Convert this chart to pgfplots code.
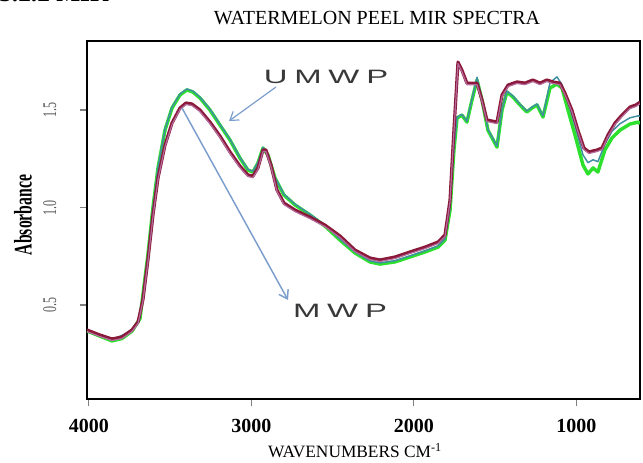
\documentclass[border=0pt]{standalone}
\usepackage{fontspec}
\setmainfont{Liberation Serif}
\newfontfamily\labsans{Liberation Sans}
\usepackage{pgfplots}
\usepackage{pgfplotstable}
\pgfplotsset{compat=1.18}
\usetikzlibrary{arrows.meta}

\definecolor{mwpred}{HTML}{8B1A3A}
\definecolor{mwppink}{HTML}{B46A9C}
\definecolor{umwpgreen}{HTML}{2EE02E}
\definecolor{umwpteal}{HTML}{3F8FA0}
\definecolor{arrowblue}{HTML}{7C9ECC}
\definecolor{labgray}{HTML}{383838}

% MWP (microwave-treated peel), two replicate scans
\pgfplotstableread{
w v
4012 0.372
3932 0.346
3858 0.326
3797 0.336
3735 0.372
3698 0.413
3668 0.526
3637 0.731
3606 0.962
3575 1.151
3532 1.320
3489 1.433
3440 1.510
3403 1.536
3366 1.531
3317 1.500
3255 1.438
3194 1.367
3132 1.285
3071 1.213
3022 1.167
2991 1.161
2960 1.203
2929 1.295
2911 1.295
2880 1.218
2843 1.090
2800 1.023
2732 0.987
2640 0.951
2548 0.910
2455 0.854
2363 0.782
2271 0.741
2209 0.731
2117 0.746
2025 0.772
1932 0.797
1852 0.823
1809 0.859
1778 1.038
1754 1.397
1729 1.746
1705 1.705
1674 1.638
1612 1.638
1581 1.551
1551 1.449
1489 1.438
1458 1.577
1421 1.628
1366 1.644
1317 1.638
1268 1.654
1225 1.638
1182 1.654
1145 1.644
1102 1.638
1071 1.587
1028 1.500
991 1.397
954 1.305
923 1.285
874 1.295
843 1.305
806 1.372
763 1.433
720 1.474
671 1.515
634 1.526
609 1.540
}\mwpa

\pgfplotstableread{
w v
4012 0.364
3932 0.338
3858 0.318
3797 0.328
3735 0.364
3698 0.405
3668 0.518
3637 0.723
3606 0.954
3575 1.143
3532 1.312
3489 1.425
3440 1.502
3403 1.528
3366 1.523
3317 1.492
3255 1.430
3194 1.359
3132 1.277
3071 1.205
3022 1.159
2991 1.153
2960 1.195
2929 1.287
2911 1.287
2880 1.210
2843 1.082
2800 1.015
2732 0.979
2640 0.943
2548 0.902
2455 0.846
2363 0.774
2271 0.733
2209 0.723
2117 0.738
2025 0.764
1932 0.789
1852 0.815
1809 0.851
1778 1.030
1754 1.389
1729 1.738
1705 1.697
1674 1.630
1612 1.630
1581 1.543
1551 1.441
1489 1.430
1458 1.569
1421 1.620
1366 1.636
1317 1.630
1268 1.646
1225 1.630
1182 1.646
1145 1.636
1102 1.630
1071 1.579
1028 1.492
991 1.389
954 1.297
923 1.277
874 1.287
843 1.297
806 1.364
763 1.425
720 1.466
671 1.507
634 1.518
609 1.532
}\mwpb

% UMWP (untreated peel), two replicate scans
\pgfplotstableread{
w v
4012 0.367
3932 0.340
3858 0.316
3797 0.328
3735 0.366
3686 0.430
3637 0.757
3606 1.000
3575 1.203
3532 1.397
3489 1.510
3440 1.577
3397 1.603
3360 1.592
3317 1.562
3255 1.500
3194 1.423
3132 1.346
3071 1.254
3022 1.192
2991 1.182
2960 1.228
2929 1.305
2898 1.269
2855 1.151
2800 1.064
2732 1.013
2640 0.962
2548 0.905
2455 0.833
2363 0.767
2271 0.721
2209 0.710
2117 0.721
2025 0.746
1932 0.772
1852 0.797
1809 0.833
1778 0.987
1754 1.295
1735 1.459
1705 1.474
1674 1.438
1643 1.551
1612 1.654
1581 1.551
1545 1.397
1489 1.310
1458 1.500
1428 1.592
1391 1.567
1348 1.526
1305 1.490
1274 1.510
1243 1.526
1206 1.464
1163 1.613
1120 1.633
1089 1.613
1052 1.500
1009 1.372
960 1.218
929 1.172
898 1.203
868 1.182
825 1.295
782 1.356
732 1.397
671 1.428
621 1.438
609 1.430
}\umwpa

\pgfplotstableread{
w v
4012 0.370
3858 0.320
3735 0.369
3686 0.433
3637 0.760
3606 1.003
3575 1.207
3532 1.401
3489 1.514
3440 1.582
3397 1.608
3360 1.597
3317 1.566
3255 1.504
3194 1.427
3132 1.350
3071 1.258
3022 1.196
2991 1.186
2960 1.232
2929 1.309
2898 1.273
2855 1.155
2800 1.068
2732 1.017
2640 0.966
2548 0.910
2455 0.838
2363 0.772
2271 0.726
2209 0.716
2117 0.727
2025 0.752
1932 0.778
1852 0.803
1809 0.840
1778 0.995
1754 1.300
1735 1.462
1705 1.478
1674 1.442
1643 1.556
1612 1.668
1581 1.556
1545 1.402
1489 1.315
1458 1.505
1428 1.597
1391 1.572
1348 1.531
1305 1.495
1274 1.515
1243 1.531
1206 1.470
1163 1.640
1120 1.670
1089 1.630
1052 1.540
1009 1.420
960 1.270
929 1.230
898 1.245
868 1.235
825 1.325
782 1.390
732 1.430
671 1.460
621 1.470
609 1.468
}\umwpb

\begin{document}
\begin{tikzpicture}[x=0.75pt,y=0.75pt]
\useasboundingbox (0,0) rectangle (643,463);

% section heading running off the top edge
\node[anchor=base west,inner sep=0pt,font=\bfseries\fontsize{19}{19}\selectfont] at (-1,461) {3.2.2 MIR};

\begin{axis}[
  at={(65.25pt,48pt)}, anchor=south west,
  scale only axis, width=414.75pt, height=268.5pt,
  x dir=reverse,
  xmin=609, xmax=4012, ymin=0.018, ymax=1.854,
  axis line style={black, line width=1.1pt},
  xtick={1000,2000,3000,4000},
  ytick={0.5,1.0,1.5},
  tick align=outside,
  xtick pos=bottom, ytick pos=left,
  major tick length=5.5pt,
  tick style={gray, line width=0.8pt},
  /pgf/number format/1000 sep={},
  /pgf/number format/assume math mode=true,
  xticklabel style={font=\bfseries\fontsize{15}{15}\selectfont, yshift=-6pt},
  yticklabel style={xshift=-14pt, rotate=90, anchor=south, text=gray!70!black,
     font=\fontsize{14.5}{14.5}\selectfont},
  yticklabel={\scalebox{0.62}[1]{\pgfmathprintnumber[fixed,fixed zerofill,precision=1]{\tick}}},
  clip=true,
]
\addplot[umwpgreen, line width=2.6pt, line join=round] table[x=w,y=v] {\umwpa};
\addplot[umwpteal, line width=1.1pt, line join=round] table[x=w,y=v] {\umwpb};
\addplot[mwpred, line width=2.4pt, line join=round] table[x=w,y=v] {\mwpa};
\addplot[mwppink, line width=0.9pt, line join=round] table[x=w,y=v] {\mwpb};
\end{axis}

% annotation arrows and sample labels
\draw[arrowblue, line width=0.9pt, -{Straight Barb[length=6pt,width=8pt]}] (276,376) -- (229,342);
\draw[arrowblue, line width=1.1pt, -{Straight Barb[length=6pt,width=8pt]}] (182,355) -- (288,163);
\node[labgray, font=\labsans\fontsize{14.5}{14.5}\selectfont] at (326,386)
  {\scalebox{1.7}[1]{U\hspace{3pt}M\hspace{3pt}W\hspace{3pt}P}};
\node[labgray, font=\labsans\fontsize{14.5}{14.5}\selectfont] at (340,152)
  {\scalebox{1.7}[1]{M\hspace{3pt}W\hspace{3pt}P}};

% titles
\node[font=\fontsize{15}{15}\selectfont] at (377,445) {WATERMELON PEEL MIR SPECTRA};
\node[font=\fontsize{13}{13}\selectfont] at (355,12) {WAVENUMBERS CM\textsuperscript{-1}};
\node[rotate=90, font=\bfseries\fontsize{19}{19}\selectfont] at (23,248) {\scalebox{0.62}[1]{Absorbance}};
\end{tikzpicture}
\end{document}
